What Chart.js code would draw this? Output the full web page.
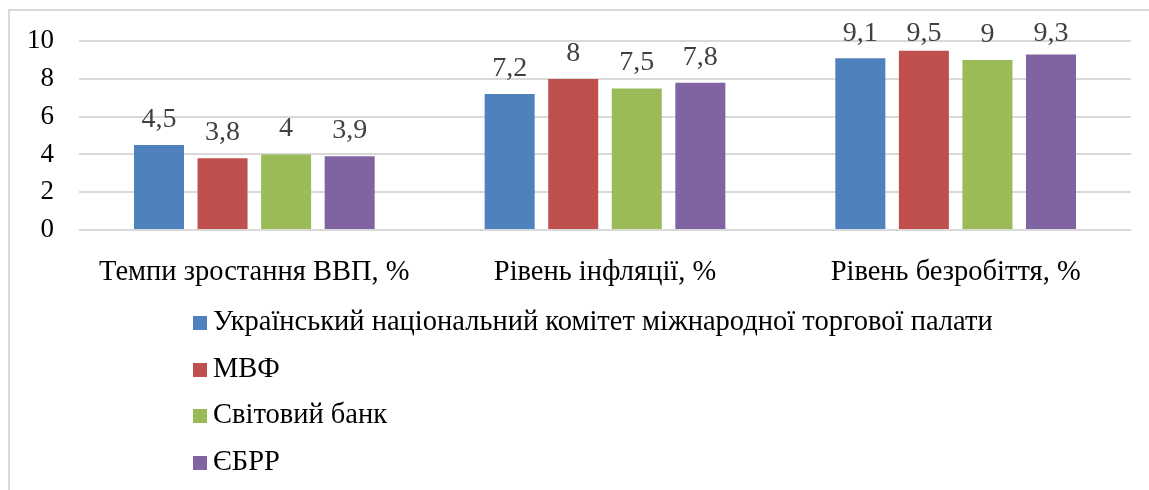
<!DOCTYPE html>
<html lang="uk">
<head>
<meta charset="utf-8">
<script src="https://cdn.jsdelivr.net/npm/chart.js@4.4.1/dist/chart.umd.min.js"></script>
<style>
  body { margin: 0; background: #fff; }
  #wrap { position: relative; width: 1149px; height: 490px; overflow: hidden; }
  #frame { position: absolute; left: 8px; top: 9px; right: -10px; bottom: -10px;
           border-left: 2px solid #d9d9d9; border-top: 2px solid #d9d9d9; }
  #legend { position: absolute; left: 193px; top: 0; font-family: "Liberation Serif", serif;
            font-size: 28.5px; color: #000; }
  .item { position: absolute; left: 0; white-space: nowrap; height: 30px; line-height: 30px; }
  .box { display: inline-block; width: 14px; height: 14px; margin-right: 6px; vertical-align: 0px; }
</style>
</head>
<body>
<div id="wrap">
  <div id="frame"></div>
  <canvas id="barChart" width="1149" height="490"></canvas>
  <div id="legend"></div>
</div>
<script>
// categories and series
const categories = ["Темпи зростання ВВП, %", "Рівень інфляції, %", "Рівень безробіття, %"];
const seriesNames = [
  "Український національний комітет міжнародної торгової палати",
  "МВФ",
  "Світовий банк",
  "ЄБРР"
];
const ukrCommittee = [4.5, 7.2, 9.1];
const imf = [3.8, 8, 9.5];
const worldBank = [4, 7.5, 9];
const ebrd = [3.9, 7.8, 9.3];
const yTicks = [0, 2, 4, 6, 8, 10];

const colors = ["#4f81bd", "#c0504d", "#9bbb59", "#8064a2"];
const serif = "'Liberation Serif', serif";

// value labels above each bar (decimal comma)
const valueLabels = {
  id: "valueLabels",
  afterDatasetsDraw(chart) {
    const ctx = chart.ctx;
    ctx.save();
    ctx.font = "28px " + serif;
    ctx.fillStyle = "#404040";
    ctx.textAlign = "center";
    ctx.textBaseline = "alphabetic";
    chart.data.datasets.forEach((ds, i) => {
      chart.getDatasetMeta(i).data.forEach((bar, j) => {
        const txt = String(ds.data[j]).replace(".", ",");
        ctx.fillText(txt, bar.x, Math.max(bar.y - 18, 41));
      });
    });
    ctx.restore();
  }
};

const barCtx = document.getElementById("barChart").getContext("2d");
const chart = new Chart(barCtx, {
  type: "bar",
  data: {
    labels: categories,
    datasets: [ukrCommittee, imf, worldBank, ebrd].map((d, i) => ({
      label: seriesNames[i],
      data: d,
      backgroundColor: colors[i],
      borderWidth: 0,
      categoryPercentage: 0.725,
      barPercentage: 0.787
    }))
  },
  options: {
    responsive: false,
    animation: false,
    layout: { padding: { top: 38, right: 18, left: 0, bottom: 0 } },
    plugins: {
      legend: { display: false },
      tooltip: { enabled: false }
    },
    scales: {
      x: {
        grid: { display: false },
        border: { display: false },
        ticks: { font: { family: serif, size: 28.5 }, color: "#000", padding: 17, maxRotation: 0 },
        afterFit: (s) => { s.height = 260; }
      },
      y: {
        min: 0,
        max: 10,
        afterBuildTicks: (s) => { s.ticks = yTicks.map(v => ({ value: v })); },
        grid: { color: "#d9d9d9", lineWidth: 2, drawTicks: false },
        border: { display: false },
        ticks: { font: { family: serif, size: 27 }, color: "#000", padding: 25 },
        afterFit: (s) => { s.width = 79; }
      }
    }
  },
  plugins: [valueLabels]
});

// vertical legend under the chart
const legendEl = document.getElementById("legend");
chart.data.datasets.forEach((ds, i) => {
  const row = document.createElement("div");
  row.className = "item";
  row.style.top = (306 + i * 46.5) + "px";
  row.innerHTML = '<span class="box" style="background:' + ds.backgroundColor + '"></span>' + ds.label;
  legendEl.appendChild(row);
});
</script>
</body>
</html>
